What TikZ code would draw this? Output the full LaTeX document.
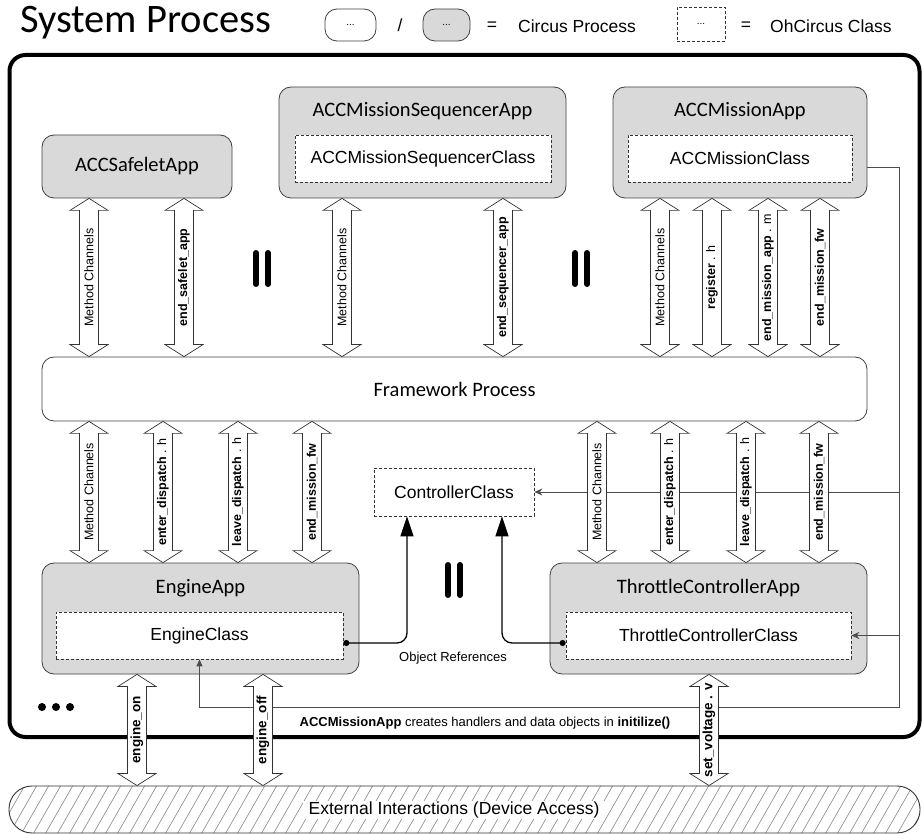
\documentclass[tikz,border=0pt]{standalone}
\usepackage{fontspec}
\setmainfont{Liberation Sans}
\newfontfamily\calfont{Carlito}
\usetikzlibrary{arrows.meta,calc}

\newcommand\fBig{\calfont\fontsize{40.5}{46}\selectfont}
\newcommand\fTitle{\calfont\fontsize{20.5}{24}\selectfont}
\newcommand\fCls{\fontsize{17.5}{20}\selectfont}
\newcommand\fChan{\fontsize{12.5}{14}\selectfont}
\newcommand\fChanB{\fontsize{13.5}{16}\selectfont\bfseries}
\newcommand\fNote{\fontsize{13}{15}\selectfont}
\newcommand\fDots{\fontsize{10}{12}\selectfont}

\begin{document}
\begin{tikzpicture}[x=1pt,y=-1pt,
  app/.style={draw=black!75, fill=black!15, rounded corners=12pt, line width=0.8pt, inner sep=0pt},
  proc/.style={draw=black!75, fill=white, rounded corners=12pt, line width=0.8pt, inner sep=0pt},
  cls/.style={draw=black!80, dash pattern=on 3pt off 2pt, fill=white, line width=0.7pt, inner sep=0pt, font=\fCls},
  ttl/.style={font=\fTitle, inner sep=0pt},
  conn/.style={draw=black!70, line width=0.9pt},
  oref/.style={draw=black, line width=1.3pt, rounded corners=10pt},
  parbar/.style={line width=6pt, line cap=round},
  chan/.style={draw=black!80, fill=white, line width=0.7pt, to path={
    let \p1=(\tikztostart), \p2=(\tikztotarget) in
    (\x1-9.5pt,\y1-12pt) -- (\x1-19pt,\y1-12pt) -- (\x1,\y1) -- (\x1+19pt,\y1-12pt) -- (\x1+9.5pt,\y1-12pt)
    -- (\x1+9.5pt,\y2+12pt) -- (\x1+19pt,\y2+12pt) -- (\x1,\y2) -- (\x1-19pt,\y2+12pt) -- (\x1-9.5pt,\y2+12pt) -- cycle
    ({\x1},{0.5*\y1+0.5*\y2}) node[rotate=90, inner sep=0pt, font=\fChan] {#1}}},
  note/.style={font=\fNote, inner sep=0pt}
]
\useasboundingbox (0,0) rectangle (922,834);

% ---------- heading and legend ----------
\node[font=\fBig, anchor=base west, inner sep=0pt] (head) at (20,33) {System Process};
\node[proc, rounded corners=12pt, minimum width=51, minimum height=32, font=\fDots] (legW) at (350.5,25) {...};
\node[font=\fCls, inner sep=0pt] (slash) at (400,25) {/};
\node[app, rounded corners=12pt, minimum width=47, minimum height=32, font=\fDots] (legG) at (446.5,25) {...};
\node[font=\fCls, inner sep=0pt] (eq1) at (492,26) {=};
\node[font=\fCls, inner sep=0pt, anchor=west] (legP) at (518,26) {Circus Process};
\node[cls, minimum width=48, minimum height=34, font=\fDots] (legC) at (701,24) {...};
\node[font=\fCls, inner sep=0pt] (eq2) at (746,26) {=};
\node[font=\fCls, inner sep=0pt, anchor=west] (legO) at (770,26) {OhCircus Class};

% ---------- system boundary ----------
\node[draw, line width=4pt, rounded corners=16pt, minimum width=910, minimum height=682, inner sep=0pt] (sys) at (464.5,396) {};

% ---------- processes ----------
\node[app, minimum width=190, minimum height=63] (safelet) at (137,166.5) {};
\node[ttl] at (safelet) {ACCSafeletApp};

\node[app, minimum width=287, minimum height=111] (seq) at (422.5,142.5) {};
\node[ttl] (seqT) at (422.5,111) {ACCMissionSequencerApp};
\node[cls, minimum width=256, minimum height=47] (seqcls) at (423,158.5) {ACCMissionSequencerClass};

\node[app, minimum width=254, minimum height=111] (mission) at (740,142.5) {};
\node[ttl] (missionT) at (740,111) {ACCMissionApp};
\node[cls, minimum width=224, minimum height=47] (misscls) at (740,158.5) {ACCMissionClass};

\node[proc, minimum width=825, minimum height=64, font=\fTitle] (fw) at (454.5,389) {Framework Process};

\node[cls, minimum width=160, minimum height=48] (ctrl) at (454,492) {ControllerClass};

\node[app, minimum width=317, minimum height=111] (engine) at (200.5,618.5) {};
\node[ttl] (engineT) at (200.5,588) {EngineApp};
\node[cls, minimum width=287, minimum height=47] (engcls) at (199.5,635.5) {EngineClass};

\node[app, minimum width=317, minimum height=111] (throttle) at (708.5,618.5) {};
\node[ttl] (throttleT) at (708.5,588) {ThrottleControllerApp};
\node[cls, minimum width=285, minimum height=47] (thrcls) at (708.5,635.5) {ThrottleControllerClass};

% ---------- external interactions ----------
\begin{scope}
  \clip[rounded corners=23pt] (9,786) rectangle (920,833);
  \foreach \i in {0,...,100} \draw[black!55, line width=0.5pt] ({\i*12-40},836) -- ++(32,-56);
\end{scope}
\node[draw=black!80, line width=0.9pt, rounded corners=23pt, minimum width=911, minimum height=47, inner sep=0pt] (ext) at (464.5,809.5) {};
\node[fill=white, inner xsep=6pt, inner ysep=1pt, font=\fCls] (extT) at (454,810) {External Interactions (Device Access)};

% ---------- creation and reference links ----------
\coordinate (rt0) at ($(mission.east)+(0,24.5)$);
\coordinate (rt1) at (899,0 |- rt0);
\coordinate (rt2) at (899,707);
\draw[conn, -{Triangle[length=7pt,width=6pt]}] (rt0) -- (rt1) -- (rt2) -- (engcls.south |- rt2) -- (engcls.south);
\draw[conn, -{Stealth[length=8pt,width=7pt]}] (899,0 |- ctrl.east) -- (ctrl.east);
\draw[conn, -{Stealth[length=8pt,width=7pt]}] (899,0 |- thrcls.east) -- (thrcls.east);

\coordinate (oL) at ($(ctrl.south)+(-47,0)$);
\coordinate (oR) at ($(ctrl.south)+(48,0)$);
\draw[oref, {Circle[length=6pt]}-{Triangle[length=20pt,width=13pt]}] ($(engcls.east)+(0,7.5)$) -| (oL);
\draw[oref, {Circle[length=6pt]}-{Triangle[length=20pt,width=13pt]}] ($(thrcls.west)+(0,7.5)$) -| (oR);
\node[note] (orefT) at (453,658) {Object References};

\node[note] (createT) at (485,723) {\textbf{ACCMissionApp} creates handlers and data objects in \textbf{initilize()}};

% ---------- channels: applications to framework ----------
\path[chan={Method Channels}] (89,0 |- safelet.south) to (89,0 |- fw.north);
\path[chan={\bfseries end\_safelet\_app}] (184,0 |- safelet.south) to (184,0 |- fw.north);
\path[chan={Method Channels}] (342,0 |- seq.south) to (342,0 |- fw.north);
\path[chan={\bfseries end\_sequencer\_app}] (503,0 |- seq.south) to (503,0 |- fw.north);
\path[chan={Method Channels}] (660,0 |- mission.south) to (660,0 |- fw.north);
\path[chan={\textbf{register} . h}] (712,0 |- mission.south) to (712,0 |- fw.north);
\path[chan={\textbf{end\_mission\_app} . m}] (768,0 |- mission.south) to (768,0 |- fw.north);
\path[chan={\bfseries end\_mission\_fw}] (820,0 |- mission.south) to (820,0 |- fw.north);

% ---------- channels: framework to handlers ----------
\path[chan={Method Channels}] (89,0 |- fw.south) to (89,0 |- engine.north);
\path[chan={\textbf{enter\_dispatch} . h}] (163,0 |- fw.south) to (163,0 |- engine.north);
\path[chan={\textbf{leave\_dispatch} . h}] (238,0 |- fw.south) to (238,0 |- engine.north);
\path[chan={\bfseries end\_mission\_fw}] (312,0 |- fw.south) to (312,0 |- engine.north);
\path[chan={Method Channels}] (597,0 |- fw.south) to (597,0 |- throttle.north);
\path[chan={\textbf{enter\_dispatch} . h}] (670,0 |- fw.south) to (670,0 |- throttle.north);
\path[chan={\textbf{leave\_dispatch} . h}] (746,0 |- fw.south) to (746,0 |- throttle.north);
\path[chan={\bfseries end\_mission\_fw}] (819,0 |- fw.south) to (819,0 |- throttle.north);

% ---------- channels: handlers to devices ----------
\path[chan={\fChanB engine\_on}] (137,0 |- engine.south) to (137,0 |- ext.north);
\path[chan={\fChanB engine\_off}] (263,0 |- engine.south) to (263,0 |- ext.north);
\path[chan={\fChanB set\_voltage . v}] (709,0 |- throttle.south) to (709,0 |- ext.north);

% ---------- parallel composition bars ----------
\draw[parbar] (256,253) -- (256,284) (268,253) -- (268,284);
\draw[parbar] (575,253) -- (575,284) (587,253) -- (587,284);
\draw[parbar] (448,565) -- (448,595) (460,565) -- (460,595);

% ---------- more processes ----------
\fill (42,707) circle (4pt) (56,707) circle (4pt) (70,707) circle (4pt);
\end{tikzpicture}
\end{document}
